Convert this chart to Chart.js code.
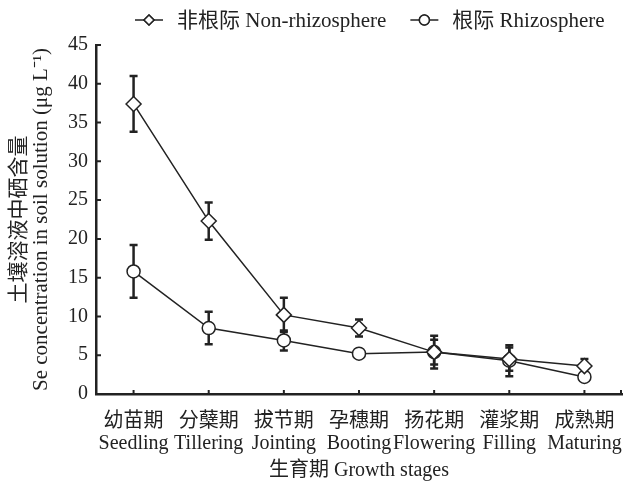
<!DOCTYPE html>
<html>
<head>
<meta charset="utf-8">
<script src="https://cdn.jsdelivr.net/npm/chart.js@4.4.0/dist/chart.umd.min.js"></script>
<style>
  body { margin: 0; background: #fff; }
  #wrap { width: 637px; height: 488px; }
</style>
</head>
<body>
<div id="wrap"><canvas id="seChart"></canvas></div>
<script>
// growth stages
const stagesZh = ["幼苗期", "分蘖期", "拔节期", "孕穗期", "扬花期", "灌浆期", "成熟期"];
const stagesEn = ["Seedling", "Tillering", "Jointing", "Booting", "Flowering", "Filling", "Maturing"];

// Se concentration (ug/L), mean and error
const nonRhizo = [37.4, 22.3, 10.2, 8.5, 5.4, 4.5, 3.6];
const nonRhizoErr = [3.6, 2.4, 2.2, 1.1, 1.6, 1.5, 0.9];
const rhizo = [15.8, 8.5, 6.9, 5.2, 5.4, 4.3, 2.2];
const rhizoErr = [3.4, 2.1, 1.3, 0.4, 2.1, 2.0, 0.4];

const yMin = 0;
const yMax = 45;
const yStep = 5;

const FONT = "'Liberation Serif', 'Noto Sans CJK SC', serif";

const labels = stagesZh.map((zh, i) => [zh, stagesEn[i]]);

// error bars, drawn under the markers
const errorBars = {
  id: "errorBars",
  beforeDatasetsDraw(chart) {
    const ctx = chart.ctx;
    const y = chart.scales.y;
    ctx.save();
    ctx.strokeStyle = "#222";
    ctx.lineWidth = 2.5;
    chart.data.datasets.forEach((ds, i) => {
      const meta = chart.getDatasetMeta(i);
      meta.data.forEach((pt, j) => {
        const v = ds.data[j];
        const e = ds.errors[j];
        const top = y.getPixelForValue(v + e);
        const bot = y.getPixelForValue(v - e);
        ctx.beginPath();
        ctx.moveTo(pt.x, top);
        ctx.lineTo(pt.x, bot);
        ctx.moveTo(pt.x - 4, top);
        ctx.lineTo(pt.x + 4, top);
        ctx.moveTo(pt.x - 4, bot);
        ctx.lineTo(pt.x + 4, bot);
        ctx.stroke();
      });
    });
    ctx.restore();
  },
};

// small inward ticks on both axes
const innerTicks = {
  id: "innerTicks",
  afterDraw(chart) {
    const ctx = chart.ctx;
    const area = chart.chartArea;
    const x = chart.scales.x;
    const y = chart.scales.y;
    ctx.save();
    ctx.strokeStyle = "#222";
    ctx.lineWidth = 2;
    ctx.beginPath();
    y.ticks.forEach((t, i) => {
      const py = y.getPixelForTick(i);
      ctx.moveTo(area.left, py);
      ctx.lineTo(area.left + 5, py);
    });
    x.ticks.forEach((t, i) => {
      const px = x.getPixelForTick(i);
      ctx.moveTo(px, area.bottom);
      ctx.lineTo(px, area.bottom - 4);
    });
    ctx.moveTo(area.right - 1, area.bottom);
    ctx.lineTo(area.right - 1, area.bottom - 4);
    ctx.stroke();
    ctx.restore();
  },
};

// legend: line with marker in the middle, then label
const lineLegend = {
  id: "lineLegend",
  afterDraw(chart) {
    const ctx = chart.ctx;
    const cy = 20;
    let cx = 135;
    ctx.save();
    ctx.font = "21px " + FONT;
    ctx.textBaseline = "middle";
    ctx.fillStyle = "#222";
    chart.data.datasets.forEach((ds) => {
      ctx.strokeStyle = "#222";
      ctx.lineWidth = 1.5;
      ctx.beginPath();
      ctx.moveTo(cx, cy);
      ctx.lineTo(cx + 28, cy);
      ctx.stroke();
      Chart.helpers.drawPoint(ctx, {
        pointStyle: ds.pointStyle,
        radius: 5,
        borderWidth: 1.5,
        rotation: 0,
      }, cx + 14, cy);
      ctx.fillStyle = "#fff";
      ctx.strokeStyle = "#222";
      ctx.fill();
      ctx.stroke();
      ctx.fillStyle = "#222";
      ctx.fillText(ds.label, cx + 42, cy + 1);
      cx += 42 + ctx.measureText(ds.label).width + 24;
    });
    ctx.restore();
  },
};

new Chart(document.getElementById("seChart"), {
  type: "line",
  data: {
    labels: labels,
    datasets: [
      {
        label: "非根际 Non-rhizosphere",
        data: nonRhizo,
        errors: nonRhizoErr,
        pointStyle: "rectRot",
        pointRadius: 7.5,
        pointBackgroundColor: "#fff",
        pointBorderColor: "#222",
        pointBorderWidth: 1.5,
        borderColor: "#222",
        borderWidth: 1.5,
        tension: 0,
      },
      {
        label: "根际 Rhizosphere",
        data: rhizo,
        errors: rhizoErr,
        pointStyle: "circle",
        pointRadius: 6.5,
        pointBackgroundColor: "#fff",
        pointBorderColor: "#222",
        pointBorderWidth: 1.5,
        borderColor: "#222",
        borderWidth: 1.5,
        tension: 0,
      },
    ],
  },
  options: {
    responsive: true,
    maintainAspectRatio: false,
    animation: false,
    layout: {
      padding: { top: 45, right: 15, left: 0, bottom: 0 },
    },
    plugins: {
      legend: { display: false },
      tooltip: { enabled: false },
    },
    scales: {
      x: {
        offset: true,
        grid: { display: false, drawTicks: false },
        border: { display: true, color: "#222", width: 2.5 },
        ticks: {
          color: "#222",
          padding: 17,
          maxRotation: 0,
          autoSkip: false,
          font: { family: FONT, size: 20, lineHeight: 1.1 },
        },
        title: {
          display: true,
          text: "生育期 Growth stages",
          color: "#222",
          padding: { top: 0, bottom: 6 },
          font: { family: FONT, size: 20, lineHeight: 1.1 },
        },
        afterFit(scale) {
          scale.height = 94;
          scale.paddingLeft = 0;
          scale.paddingRight = 0;
        },
      },
      y: {
        min: yMin,
        max: yMax,
        grid: { display: false, drawTicks: false },
        border: { display: true, color: "#222", width: 2.5 },
        ticks: {
          stepSize: yStep,
          color: "#222",
          padding: 8,
          font: { family: FONT, size: 20 },
        },
        title: {
          display: true,
          text: ["土壤溶液中硒含量", "Se concentration in soil solution (μg L⁻¹)"],
          color: "#222",
          padding: { top: 8, bottom: 0 },
          font: { family: FONT, size: 21, lineHeight: 1.05 },
        },
        afterFit(scale) {
          scale.width = 96;
        },
      },
    },
  },
  plugins: [errorBars, innerTicks, lineLegend],
});
</script>
</body>
</html>
